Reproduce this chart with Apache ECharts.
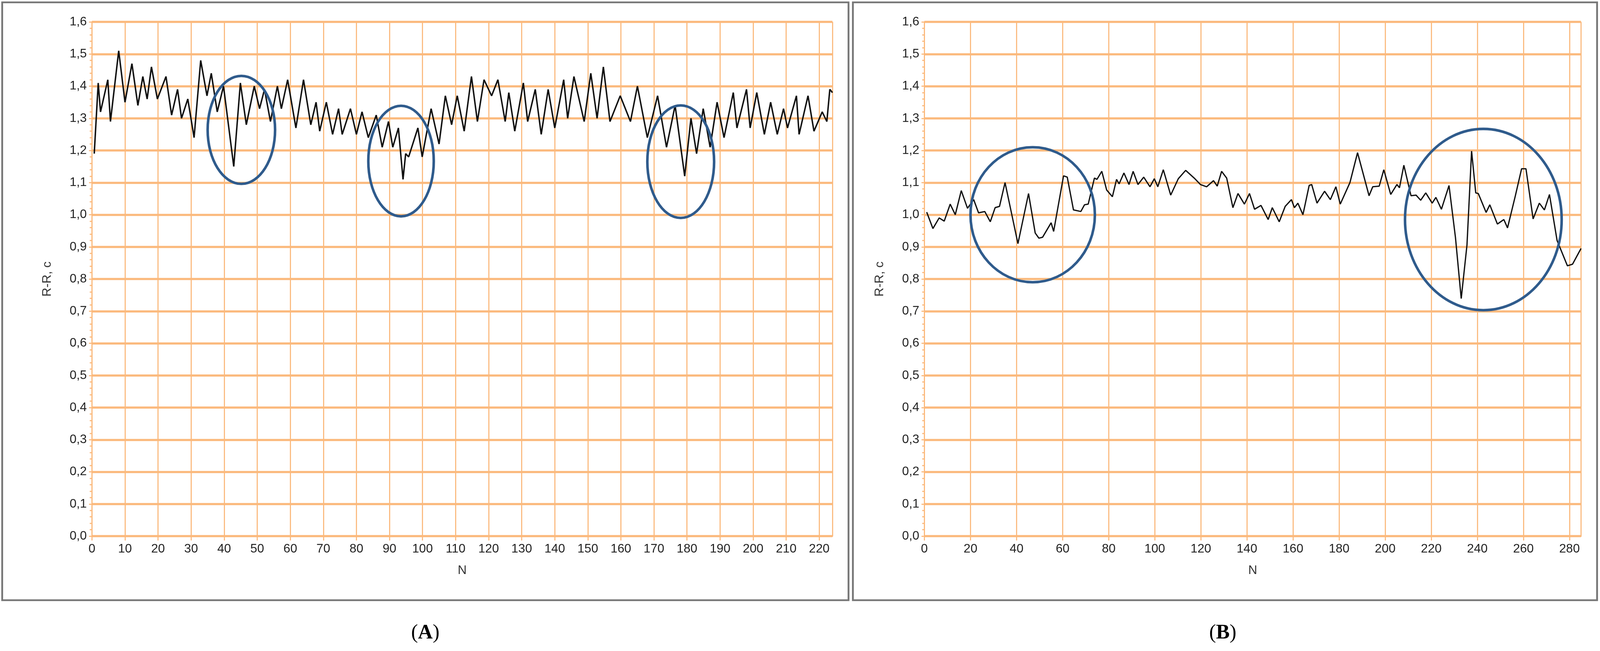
<!DOCTYPE html>
<html>
<head>
<meta charset="utf-8">
<title>R-R</title>
<script src="https://cdn.jsdelivr.net/npm/echarts@6/dist/echarts.min.js"></script>
<style>html,body{margin:0;padding:0;background:#fff;overflow:hidden}</style>
</head>
<body>
<div id="main"></div>
<script type="text/javascript">
// panel A: [N, R-R]
var seriesA = [[0.7,1.19],[1.9,1.41],[2.6,1.32],[4.8,1.42],[5.6,1.29],[8.1,1.51],[10,1.35],[12.1,1.47],[13.9,1.34],[15.4,1.43],[16.7,1.36],[18,1.46],[19.8,1.36],[22.4,1.43],[24.1,1.31],[25.9,1.39],[27.1,1.30],[29,1.36],[30.9,1.24],[32.9,1.48],[34.8,1.37],[36.1,1.44],[37.9,1.32],[39.8,1.40],[42.9,1.15],[44.9,1.41],[46.7,1.28],[49.1,1.40],[50.7,1.33],[52.2,1.39],[54,1.29],[56.1,1.40],[57.3,1.33],[59.2,1.42],[61.7,1.27],[64,1.42],[66.2,1.28],[67.8,1.35],[68.9,1.26],[70.9,1.35],[72.8,1.25],[74.6,1.33],[75.7,1.25],[78.2,1.33],[80,1.25],[81.7,1.32],[83.6,1.24],[86,1.31],[87.8,1.21],[89.7,1.29],[91,1.21],[92.7,1.27],[94.1,1.11],[94.9,1.19],[95.8,1.18],[98.6,1.27],[99.9,1.18],[102.6,1.33],[105,1.22],[106.9,1.37],[108.8,1.28],[110.5,1.37],[112.6,1.26],[114.8,1.43],[116.6,1.29],[118.6,1.42],[120.9,1.37],[122.8,1.42],[125,1.29],[126.1,1.38],[127.9,1.26],[130.5,1.41],[131.8,1.29],[134.1,1.39],[135.9,1.25],[138,1.39],[140,1.27],[142.7,1.42],[143.9,1.30],[145.8,1.43],[148.9,1.29],[150.9,1.44],[152.8,1.30],[154.7,1.46],[156.7,1.29],[159.8,1.37],[162.9,1.29],[165,1.40],[168,1.24],[171.1,1.37],[173.8,1.21],[176.4,1.34],[179.3,1.12],[181.2,1.30],[182.9,1.19],[184.9,1.33],[187,1.21],[189.1,1.35],[191.2,1.24],[194,1.38],[195.1,1.27],[198,1.39],[199.1,1.27],[201.1,1.38],[203.4,1.25],[205.3,1.35],[207.3,1.25],[209.2,1.33],[210.4,1.27],[213.1,1.37],[213.9,1.25],[216.6,1.37],[218.4,1.26],[220.9,1.32],[222.3,1.29],[223.2,1.39],[224,1.38]];

// panel B: [N, R-R]
var seriesB = [[1,1.008],[3.7,0.957],[6.4,0.99],[8.6,0.98],[11.2,1.033],[13.4,1.0],[16,1.075],[18.7,1.02],[21.4,1.047],[23.5,1.006],[26.2,1.01],[28.6,0.978],[30.7,1.022],[32.6,1.026],[35,1.10],[40.6,0.91],[45.2,1.066],[48.1,0.943],[49.7,0.927],[51.3,0.93],[55,0.975],[56.1,0.948],[60.4,1.121],[62,1.117],[64.7,1.015],[67.9,1.01],[69.5,1.031],[71.1,1.033],[73.8,1.114],[74.9,1.11],[77,1.135],[79.1,1.077],[81.6,1.056],[83.4,1.11],[84.5,1.096],[86.6,1.13],[88.8,1.094],[90.6,1.135],[92.7,1.094],[95.2,1.117],[97.9,1.087],[99.8,1.112],[101.3,1.087],[103.7,1.14],[106.9,1.061],[110.2,1.112],[113.4,1.138],[117.1,1.114],[119.8,1.094],[122.5,1.087],[125.5,1.106],[127.1,1.089],[129,1.135],[131.2,1.114],[133.9,1.022],[136.1,1.066],[138.9,1.033],[141.1,1.066],[143.3,1.017],[146.1,1.029],[149.2,0.985],[151,1.022],[154,0.978],[156.6,1.026],[159.3,1.047],[160.6,1.022],[162.1,1.036],[164.3,1.0],[167,1.091],[168.1,1.094],[170.4,1.036],[173.7,1.073],[176.2,1.047],[178.6,1.087],[180.5,1.033],[184.7,1.10],[188,1.193],[193,1.059],[194.6,1.087],[197.4,1.089],[199.4,1.14],[202.4,1.063],[205.1,1.094],[206.2,1.084],[208.1,1.154],[211.2,1.059],[213.4,1.061],[215.4,1.045],[217.6,1.068],[220.4,1.036],[222,1.054],[224.4,1.017],[227.7,1.091],[230.5,0.929],[233,0.739],[235.5,0.906],[237.5,1.198],[239.3,1.068],[240.4,1.066],[243.8,1.007],[245.4,1.031],[248.7,0.971],[251.5,0.985],[253.1,0.959],[256.5,1.059],[259.2,1.143],[261.1,1.143],[264.2,0.987],[266.9,1.036],[269.1,1.015],[271.3,1.063],[274.6,0.92],[279.1,0.841],[281.3,0.846],[285,0.895]];

// highlighted regions: [N center, value center, N radius, value radius]
var circlesA = [[45.2,1.264,10.2,0.168],[93.5,1.167,9.9,0.172],[178.1,1.165,10.1,0.175]];
var circlesB = [[47,1.0,27,0.21],[242.6,0.985,34,0.282]];

var yTicks = {min: 0, max: 1.6, interval: 0.1};
var xMaxA = 224, xMaxB = 285;

// fit the 4386x1666 design to whatever window we actually get
var W = window.innerWidth || 4386, H = window.innerHeight || 1666;
var sx = W / 4386, sy = H / 1666, s = Math.min(sx, sy);
var el = document.getElementById('main');
el.style.width = W + 'px';
el.style.height = H + 'px';

var orange = '#fbb97c';
var font = 'Liberation Sans';

function yAxis(idx) {
    return {
        gridIndex: idx, type: 'value', min: yTicks.min, max: yTicks.max, interval: yTicks.interval,
        name: 'R-R, c', nameLocation: 'middle', nameGap: 105 * sx,
        nameTextStyle: {fontFamily: font, fontSize: 34 * s, color: '#333'},
        axisLine: {show: true, lineStyle: {color: orange, width: 3 * s}},
        axisTick: {show: true, length: 8 * s, lineStyle: {color: orange, width: 3 * s}},
        minorTick: {show: true, splitNumber: 5, length: 6 * s, lineStyle: {color: orange, width: 3 * s}},
        axisLabel: {fontFamily: font, fontSize: 34 * s, color: '#222', margin: 14 * s,
            formatter: function (v) { return v.toFixed(1).replace('.', ','); }},
        splitLine: {show: true, lineStyle: {color: orange, width: 6 * s}}
    };
}
function xAxis(idx, max) {
    return {
        gridIndex: idx, type: 'value', min: 0, max: max, interval: idx === 0 ? 10 : 20,
        name: 'N', nameLocation: 'middle', nameGap: 72 * sy,
        nameTextStyle: {fontFamily: font, fontSize: 34 * s, color: '#333'},
        axisLine: {show: true, lineStyle: {color: orange, width: 3 * s}},
        axisTick: {show: true, length: 12 * s, lineStyle: {color: orange, width: 3 * s}},
        axisLabel: {fontFamily: font, fontSize: 34 * s, color: '#222', margin: 18 * s, showMaxLabel: false},
        splitLine: {show: true, lineStyle: {color: orange, width: 3 * s}}
    };
}

var myChart = echarts.init(el);
var option = {
    backgroundColor: '#fff',
    animation: false,
    grid: [
        {left: 252 * sx, right: 2104 * sx, top: 56 * sy, bottom: 294 * sy},
        {left: 2534 * sx, right: 52 * sx, top: 56 * sy, bottom: 294 * sy}
    ],
    xAxis: [xAxis(0, xMaxA), xAxis(1, xMaxB)],
    yAxis: [yAxis(0), yAxis(1)],
    series: [
        {type: 'line', xAxisIndex: 0, yAxisIndex: 0, data: seriesA, showSymbol: false,
         lineStyle: {color: '#111', width: 4 * s}},
        {type: 'line', xAxisIndex: 1, yAxisIndex: 1, data: seriesB, showSymbol: false,
         lineStyle: {color: '#111', width: 3.5 * s}}
    ]
};
myChart.setOption(option);

// frames, labels and ellipses
function label(txt, x) {
    return {type: 'text', x: x * sx, y: 1620 * sy, style: {text: '({b|' + txt + '})', font: (56 * s) + 'px "Liberation Serif"', fill: '#000',
        align: 'center', verticalAlign: 'middle', rich: {b: {fontWeight: 'bold', fontSize: 56 * s, fontFamily: 'Liberation Serif'}}}};
}
var g = [
    {type: 'rect', shape: {x: 6 * sx, y: 6 * sy, width: 2320 * sx, height: 1530 * sy}, style: {fill: null, stroke: '#777', lineWidth: 5 * s}},
    {type: 'rect', shape: {x: 2338 * sx, y: 6 * sy, width: 2040 * sx, height: 1530 * sy}, style: {fill: null, stroke: '#777', lineWidth: 5 * s}},
    label('A', 1166),
    label('B', 3352)
];
function addCircles(list, idx) {
    list.forEach(function (c) {
        var p = myChart.convertToPixel({gridIndex: idx}, [c[0], c[1]]);
        var q = myChart.convertToPixel({gridIndex: idx}, [c[0] + c[2], c[1] + c[3]]);
        g.push({type: 'ellipse', shape: {cx: p[0], cy: p[1], rx: Math.abs(q[0] - p[0]), ry: Math.abs(q[1] - p[1])},
            style: {fill: null, stroke: '#2f5b8c', lineWidth: 7 * s}, z: 10});
    });
}
addCircles(circlesA, 0);
addCircles(circlesB, 1);
myChart.setOption({graphic: g});
</script>
</body>
</html>
